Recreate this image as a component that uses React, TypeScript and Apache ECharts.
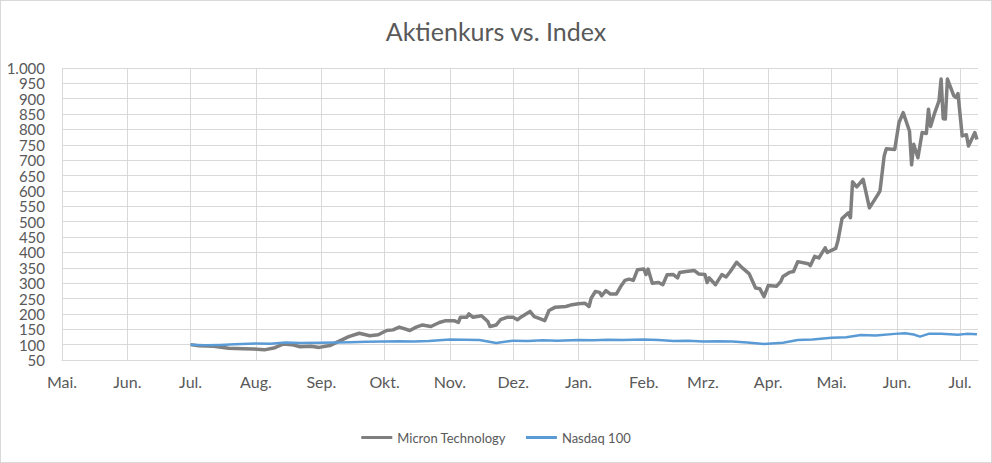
import React, { useEffect, useRef } from "react";
import * as echarts from "echarts";

const titleText = "Aktienkurs vs. Index";
const seriesNames = ["Micron Technology", "Nasdaq 100"];

const monthNames = ["Jan.", "Feb.", "Mrz.", "Apr.", "Mai.", "Jun.", "Jul.", "Aug.", "Sep.", "Okt.", "Nov.", "Dez."];
const tickMonths = [
  "2025-05-01", "2025-06-01", "2025-07-01", "2025-08-01", "2025-09-01", "2025-10-01", "2025-11-01",
  "2025-12-01", "2026-01-01", "2026-02-01", "2026-03-01", "2026-04-01", "2026-05-01", "2026-06-01", "2026-07-01",
];
const axisStart = "2025-05-01";
const axisEnd = "2026-07-09T12:00:00";

const micronDates = [
  "2025-07-01", "2025-07-05", "2025-07-12", "2025-07-19", "2025-07-26", "2025-07-31", "2025-08-05", "2025-08-10",
  "2025-08-14", "2025-08-18", "2025-08-22", "2025-08-27", "2025-08-31", "2025-09-05", "2025-09-09", "2025-09-14",
  "2025-09-19", "2025-09-24", "2025-09-28", "2025-10-02", "2025-10-05", "2025-10-08", "2025-10-13", "2025-10-16",
  "2025-10-19", "2025-10-23", "2025-10-27", "2025-10-30", "2025-11-03", "2025-11-05", "2025-11-06", "2025-11-09",
  "2025-11-10", "2025-11-12", "2025-11-16", "2025-11-19", "2025-11-20", "2025-11-23", "2025-11-25", "2025-11-28",
  "2025-12-01", "2025-12-03", "2025-12-05", "2025-12-09", "2025-12-11", "2025-12-13", "2025-12-16", "2025-12-18",
  "2025-12-21", "2025-12-26", "2025-12-29", "2026-01-01", "2026-01-04", "2026-01-06", "2026-01-07", "2026-01-09",
  "2026-01-11", "2026-01-12", "2026-01-14", "2026-01-16", "2026-01-19", "2026-01-21", "2026-01-23", "2026-01-25",
  "2026-01-27", "2026-01-29", "2026-02-01", "2026-02-02", "2026-02-03", "2026-02-05", "2026-02-08", "2026-02-10",
  "2026-02-12", "2026-02-15", "2026-02-17", "2026-02-18", "2026-02-21", "2026-02-25", "2026-02-27", "2026-03-02",
  "2026-03-03", "2026-03-04", "2026-03-07", "2026-03-10", "2026-03-12", "2026-03-14", "2026-03-17", "2026-03-20",
  "2026-03-23", "2026-03-26", "2026-03-28", "2026-03-30", "2026-04-01", "2026-04-05", "2026-04-07", "2026-04-08",
  "2026-04-11", "2026-04-13", "2026-04-15", "2026-04-20", "2026-04-21", "2026-04-23", "2026-04-25", "2026-04-28",
  "2026-04-29", "2026-05-03", "2026-05-04", "2026-05-06", "2026-05-09", "2026-05-10", "2026-05-11", "2026-05-13",
  "2026-05-16", "2026-05-19", "2026-05-23", "2026-05-24", "2026-05-26", "2026-05-27", "2026-05-31", "2026-06-02",
  "2026-06-04", "2026-06-07", "2026-06-08", "2026-06-09", "2026-06-11", "2026-06-13", "2026-06-15", "2026-06-16",
  "2026-06-17", "2026-06-19", "2026-06-21", "2026-06-22", "2026-06-23", "2026-06-24", "2026-06-25", "2026-06-28",
  "2026-06-29", "2026-06-30", "2026-07-02", "2026-07-04", "2026-07-05", "2026-07-08", "2026-07-09",
];
const micronValues = [
  100, 96, 95, 88, 87, 86, 83, 90,
  102, 100, 93, 95, 91, 97, 110, 126,
  137, 129, 132, 146, 148, 157, 146, 157,
  164, 159, 172, 178, 178, 172, 189, 189,
  200, 189, 194, 175, 159, 164, 181, 189,
  189, 181, 191, 208, 191, 186, 178, 211,
  222, 224, 230, 233, 235, 224, 251, 273,
  270, 259, 276, 265, 265, 289, 309, 313,
  309, 344, 346, 328, 346, 300, 302, 295,
  327, 328, 317, 335, 338, 341, 330, 328,
  302, 317, 295, 328, 320, 338, 368, 348,
  330, 284, 282, 256, 292, 290, 306, 322,
  335, 338, 370, 363, 357, 387, 382, 415,
  400, 413, 436, 510, 529, 513, 630, 613,
  638, 545, 588, 600, 714, 737, 735, 822,
  855, 795, 685, 752, 708, 790, 787, 866,
  810, 855, 893, 964, 835, 834, 964, 910,
  904, 917, 779, 783, 746, 790, 767,
];

const nasdaqDates = [
  "2025-07-01", "2025-07-08", "2025-07-15", "2025-07-22", "2025-08-01", "2025-08-08", "2025-08-15", "2025-08-22",
  "2025-09-01", "2025-09-08", "2025-09-15", "2025-09-22", "2025-10-01", "2025-10-08", "2025-10-15", "2025-10-22",
  "2025-11-01", "2025-11-08", "2025-11-15", "2025-11-23", "2025-12-01", "2025-12-08", "2025-12-15", "2025-12-22",
  "2026-01-01", "2026-01-08", "2026-01-15", "2026-01-22", "2026-02-01", "2026-02-08", "2026-02-15", "2026-02-22",
  "2026-03-01", "2026-03-08", "2026-03-15", "2026-03-22", "2026-03-30", "2026-04-08", "2026-04-15", "2026-04-22",
  "2026-05-01", "2026-05-08", "2026-05-15", "2026-05-22", "2026-05-31", "2026-06-05", "2026-06-09", "2026-06-12",
  "2026-06-16", "2026-06-22", "2026-06-26", "2026-06-30", "2026-07-04", "2026-07-09",
];
const nasdaqValues = [
  100, 98, 99, 101, 104, 103, 107, 105,
  106, 107, 108, 109, 110, 111, 110, 112,
  117, 116, 115, 105, 113, 112, 114, 113,
  115, 114, 116, 115, 117, 115, 112, 113,
  110, 111, 110, 107, 102, 106, 115, 117,
  122, 124, 131, 130, 135, 137, 133, 126,
  135, 135, 134, 132, 135, 134,
];

const yMin = 50;
const yMax = 1000;
const yStep = 50;

const FONT = "Lato, 'Open Sans', sans-serif";
const TEXT = "#595959";
const GRID = "#d9d9d9";

function fmtThousands(v: number): string {
  return String(v).replace(/\B(?=(\d{3})+(?!\d))/g, ".");
}

function toTs(d: string): number {
  const [datePart, timePart] = d.split("T");
  const [y, m, dd] = datePart.split("-").map(Number);
  let t = Date.UTC(y, m - 1, dd);
  if (timePart) t += Number(timePart.split(":")[0]) * 3600 * 1000;
  return t;
}

export default function App() {
  const ref = useRef<HTMLDivElement>(null);

  useEffect(() => {
    if (!ref.current) return;
    const chart = echarts.init(ref.current, undefined, { renderer: "svg" });
    const ticks = tickMonths.map(toTs);
    chart.setOption({
      animation: false,
      backgroundColor: "#ffffff",
      title: {
        text: titleText,
        left: "center",
        top: 13,
        textStyle: { fontFamily: FONT, fontSize: 25, fontWeight: "normal", color: TEXT },
      },
      legend: {
        bottom: 14,
        left: "center",
        itemGap: 20,
        itemWidth: 31,
        itemHeight: 3,
        icon: "rect",
        textStyle: { fontFamily: FONT, fontSize: 13, color: TEXT },
        data: seriesNames,
      },
      grid: { left: 62, right: 14, top: 68, bottom: 103 },
      xAxis: {
        type: "value",
        min: toTs(axisStart),
        max: toTs(axisEnd),
        axisLine: { show: true, lineStyle: { color: GRID, width: 1 } },
        axisTick: { show: false, customValues: ticks },
        splitLine: { show: true, lineStyle: { color: GRID, width: 1 } },
        axisLabel: {
          customValues: ticks,
          fontFamily: FONT,
          fontSize: 16,
          color: TEXT,
          margin: 13,
          formatter: (v: number) => monthNames[new Date(v).getUTCMonth()],
        },
      },
      yAxis: {
        type: "value",
        min: yMin,
        max: yMax,
        interval: yStep,
        axisLine: { show: false },
        axisTick: { show: false },
        splitLine: { show: true, lineStyle: { color: GRID, width: 1 } },
        axisLabel: {
          fontFamily: FONT,
          fontSize: 15,
          lineHeight: 14,
          color: TEXT,
          margin: 17,
          showMinLabel: true,
          showMaxLabel: true,
          hideOverlap: false,
          formatter: (v: number) => fmtThousands(v),
        },
      },
      series: [
        {
          name: seriesNames[0],
          type: "line",
          showSymbol: false,
          symbol: "none",
          color: "#7f7f7f",
          lineStyle: { color: "#7f7f7f", width: 3.5, join: "round" },
          data: micronDates.map((d, i) => [toTs(d), micronValues[i]]),
        },
        {
          name: seriesNames[1],
          type: "line",
          showSymbol: false,
          symbol: "none",
          color: "#5b9bd5",
          lineStyle: { color: "#5b9bd5", width: 2.5, join: "round" },
          data: nasdaqDates.map((d, i) => [toTs(d), nasdaqValues[i]]),
        },
      ],
    });
    return () => chart.dispose();
  }, []);

  return (
    <div style={{ position: "fixed", left: 0, top: 0, width: 992, height: 463, background: "#fff" }}>
      <div ref={ref} style={{ position: "absolute", left: 0, top: 0, width: 992, height: 463 }} />
      <div
        style={{
          position: "absolute",
          left: 0,
          top: 0,
          width: 992,
          height: 463,
          boxSizing: "border-box",
          border: "1px solid #d9d9d9",
          pointerEvents: "none",
        }}
      />
    </div>
  );
}
